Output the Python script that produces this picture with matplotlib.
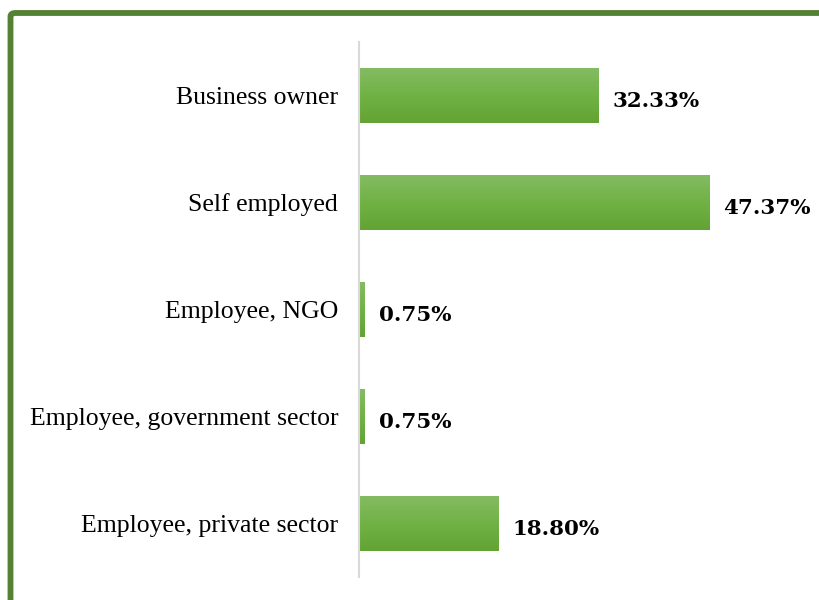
import matplotlib.pyplot as plt
import numpy as np
from matplotlib.colors import LinearSegmentedColormap
from matplotlib.patches import FancyBboxPatch

categories = ['Business owner', 'Self employed', 'Employee, NGO',
              'Employee, government sector', 'Employee, private sector']
shares = [32.33, 47.37, 0.75, 0.75, 18.80]
value_labels = ['32.33%', '47.37%', '0.75%', '0.75%', '18.80%']

fig = plt.figure(figsize=(8.2, 6), dpi=100)
ax = fig.add_axes([359 / 820, 1 - 577 / 600, (820 - 359) / 820, 535 / 600])

# green frame, only left and top edges fall inside the image
frame = FancyBboxPatch((10.5 / 820, -0.2), 1.2, 1.2 - 13 / 600,
                       boxstyle='round,pad=0,rounding_size=0.006',
                       transform=fig.transFigure, fill=False,
                       edgecolor='#548235', linewidth=4.2, clip_on=False)
fig.patches.append(frame)

y = np.arange(len(categories))
bars = ax.barh(y, shares, height=0.51, color='#70ad47', edgecolor='none')

# vertical gradient inside each bar
grad = LinearSegmentedColormap.from_list('g', ['#62a334', '#70b244', '#84bb63'])
for b in bars:
    x0, y0 = b.get_x(), b.get_y()
    w, h = b.get_width(), b.get_height()
    im = ax.imshow(np.linspace(0, 1, 64).reshape(-1, 1), cmap=grad,
                   aspect='auto', origin='lower',
                   extent=[x0, x0 + w, y0 + h, y0], zorder=2)
    im.set_clip_path(b)

for yi, v, lab in zip(y, shares, value_labels):
    ax.text(v + 1.9, yi + 0.05, lab, va='center', ha='left', fontsize=15.4,
            fontweight='bold', family='DejaVu Serif', color='black')

ax.set_xlim(0, (820 - 359) / 7.4)
ax.set_ylim(len(categories) - 0.5, -0.5)
ax.set_yticks(y)
ax.set_yticklabels(categories, family='Liberation Serif', fontsize=18.5)
ax.tick_params(axis='y', length=0, pad=15)
ax.set_xticks([])
for s in ['top', 'right', 'bottom']:
    ax.spines[s].set_visible(False)
ax.spines['left'].set_color('#d9d9d9')
ax.spines['left'].set_linewidth(1.5)

fig.savefig('out.png', dpi=100)
